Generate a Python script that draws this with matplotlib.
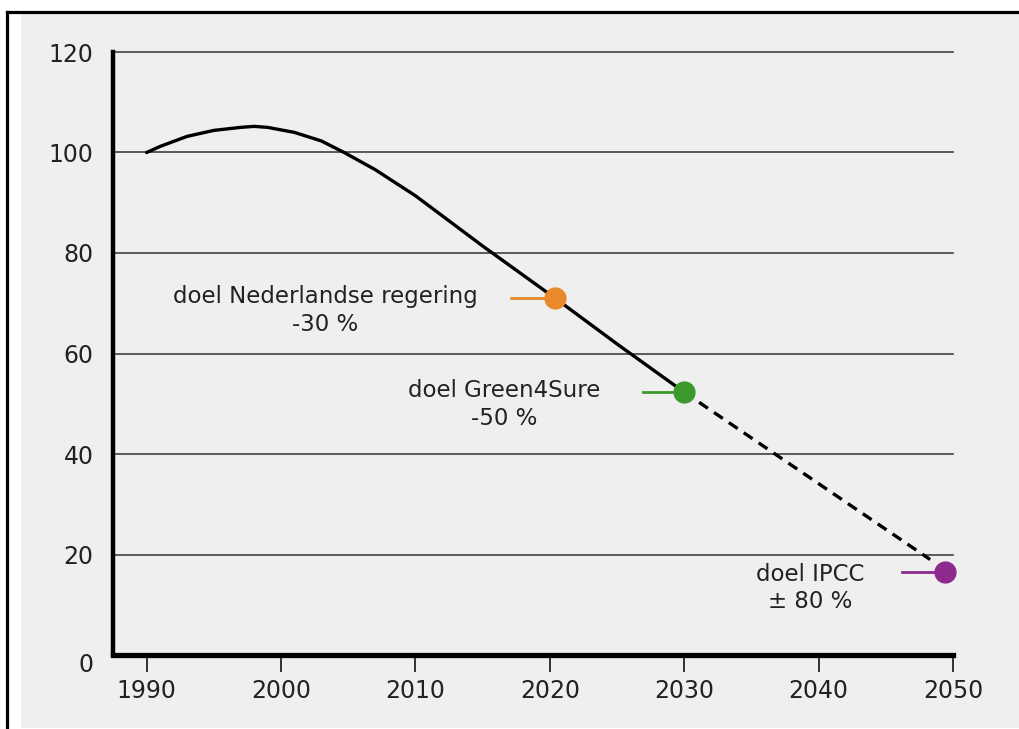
import matplotlib
matplotlib.use('Agg')
import matplotlib.pyplot as plt
from matplotlib.patches import Rectangle
from matplotlib.lines import Line2D
from matplotlib.transforms import offset_copy

# emission index (1990 = 100), measured part up to the 2030 target
years = [1990, 1991, 1993, 1995, 1997, 1998, 1999, 2001, 2003, 2004.7, 2007, 2010,
         2015, 2020.4, 2025, 2030]
index = [100, 101.2, 103.2, 104.4, 105.0, 105.2, 105.0, 104.0, 102.3, 100.0, 96.6, 91.4,
         81.4, 71.0, 61.9, 52.3]

# projected part after 2030
proj_years = [2030, 2048.3]
proj_index = [52.3, 19.0]

# targets: year, value, colour, label
targets = [
    (2020.4, 71.0, '#e88a2a', 'doel Nederlandse regering\n-30 %'),
    (2030.0, 52.3, '#3c9a2c', 'doel Green4Sure\n-50 %'),
    (2049.4, 16.5, '#8e2a8e', 'doel IPCC\n\u00b1 80 %'),
]
stub_len = [3.3, 3.1, 3.2]
label_pos = [(2003.3, 68.6), (2016.6, 49.9), (2039.4, 13.3)]

x_ticks = [1990, 2000, 2010, 2020, 2030, 2040, 2050]
y_ticks = [0, 20, 40, 60, 80, 100, 120]

fig = plt.figure(figsize=(10.2, 7.29), dpi=100)
fig.patch.set_facecolor('white')

# grey panel with the black frame lines on top and left
fig.patches.append(Rectangle((21 / 1020, 1 / 729), 1, 1 - 15 / 729,
                             transform=fig.transFigure, facecolor='#efefef',
                             edgecolor='none', zorder=0))
fig.lines.append(Line2D([7 / 1020, 1], [1 - 12 / 729] * 2, transform=fig.transFigure,
                        color='black', lw=2.3))
fig.lines.append(Line2D([7 / 1020] * 2, [0, 1 - 12 / 729], transform=fig.transFigure,
                        color='black', lw=2.3))

ax = fig.add_axes([113 / 1020, 74 / 729, 840 / 1020, 603 / 729])
ax.set_zorder(5)
ax.patch.set_visible(False)
ax.set_xlim(1987.5, 2050)
ax.set_ylim(0, 120)

for v in y_ticks[1:]:
    ax.axhline(v, color='#333333', lw=1.1, zorder=1, clip_on=False)

ax.plot(years, index, color='black', lw=2.4, zorder=3,
        solid_capstyle='round', solid_joinstyle='round')
ax.plot(proj_years, proj_index, color='black', lw=2.4, ls=(0, (3.2, 2.2)), zorder=3)

for (x, y, c, txt), s, (tx, ty) in zip(targets, stub_len, label_pos):
    ax.plot([x - s, x], [y, y], color=c, lw=2.0, zorder=4)
    ax.plot([x], [y], 'o', color=c, markersize=15, zorder=5, clip_on=False)
    ax.text(tx, ty, txt, ha='center', va='center', fontsize=16.5,
            color='#222222', linespacing=1.25, family='DejaVu Sans')

for side in ['top', 'right']:
    ax.spines[side].set_visible(False)
ax.spines['left'].set_linewidth(3.2)
ax.spines['bottom'].set_linewidth(3.8)
ax.spines['left'].set_capstyle('projecting')
ax.spines['bottom'].set_capstyle('projecting')

ax.set_xticks(x_ticks)
ax.set_yticks(y_ticks)
ax.tick_params(axis='x', direction='out', length=12, width=1.1, pad=5,
               labelsize=17, labelcolor='#222222')
ax.tick_params(axis='y', length=0, pad=14, labelsize=17, labelcolor='#222222')

# the zero label sits a little below the axis line
zero_label = ax.get_yticklabels()[0]
zero_label.set_transform(offset_copy(zero_label.get_transform(), fig=fig, x=0, y=-7, units='dots'))

fig.savefig('out.png', dpi=100, facecolor=fig.get_facecolor())
